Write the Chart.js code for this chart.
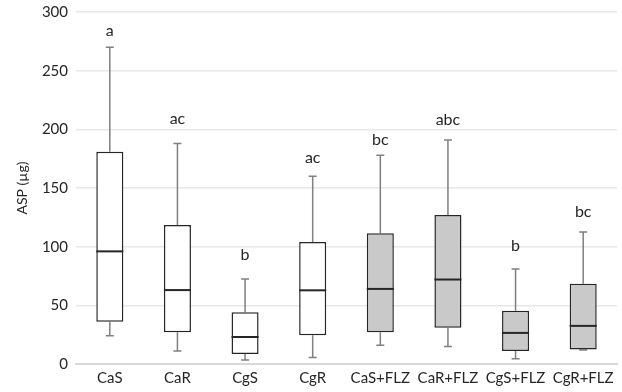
<!DOCTYPE html>
<html>
<head>
<meta charset="utf-8">
<script src="https://cdn.jsdelivr.net/npm/chart.js@4"></script>
<style>
  body { margin: 0; background: #fff; }
  #wrap { width: 622px; height: 392px; }
</style>
</head>
<body>
<div id="wrap"><canvas id="canvasASP"></canvas></div>
<script>
// groups
var grupos = ["CaS", "CaR", "CgS", "CgR", "CaS+FLZ", "CaR+FLZ", "CgS+FLZ", "CgR+FLZ"];
// box plot values (µg)
var minimos = [24, 11, 3.5, 5.5, 16, 15, 4.5, 12];
var q1 = [36, 27, 8.5, 24.5, 27, 31, 11, 12.3];
var medianas = [96, 63, 23, 62.8, 64, 72, 26.5, 32.5];
var q3 = [181, 118.5, 44, 104, 111.5, 127, 45.3, 68.4];
var maximos = [270, 188, 72.5, 160, 178, 191, 81, 112.5];
// significance letters and where they sit
var letras = ["a", "ac", "b", "ac", "bc", "abc", "b", "bc"];
var letrasY = [284, 209, 93, 176, 191, 208, 101, 129.5];

var fuente = "Lato, 'Open Sans', sans-serif";

// whiskers, medians and letters drawn on the chart scales
var boxPlugin = {
  id: "boxExtras",
  beforeDatasetsDraw: function (chart) {
    var c = chart.ctx, x = chart.scales.x, y = chart.scales.y;
    c.save();
    c.strokeStyle = "#808080";
    c.lineWidth = 1.5;
    for (var i = 0; i < grupos.length; i++) {
      var px = x.getPixelForValue(i);
      c.beginPath();
      c.moveTo(px, y.getPixelForValue(maximos[i]));
      c.lineTo(px, y.getPixelForValue(q3[i]));
      c.moveTo(px, y.getPixelForValue(q1[i]));
      c.lineTo(px, y.getPixelForValue(minimos[i]));
      c.moveTo(px - 4, y.getPixelForValue(maximos[i]));
      c.lineTo(px + 4, y.getPixelForValue(maximos[i]));
      c.moveTo(px - 4, y.getPixelForValue(minimos[i]));
      c.lineTo(px + 4, y.getPixelForValue(minimos[i]));
      c.stroke();
    }
    c.restore();
  },
  afterDatasetsDraw: function (chart) {
    var c = chart.ctx, x = chart.scales.x, y = chart.scales.y;
    var meta = chart.getDatasetMeta(0);
    c.save();
    c.strokeStyle = "#262626";
    c.lineWidth = 2;
    for (var i = 0; i < grupos.length; i++) {
      var bar = meta.data[i];
      var half = bar.width / 2;
      var py = y.getPixelForValue(medianas[i]);
      c.beginPath();
      c.moveTo(bar.x - half, py);
      c.lineTo(bar.x + half, py);
      c.stroke();
    }
    c.fillStyle = "#262626";
    c.font = "16px " + fuente;
    c.textAlign = "center";
    c.textBaseline = "middle";
    for (var j = 0; j < letras.length; j++) {
      c.fillText(letras[j], x.getPixelForValue(j), y.getPixelForValue(letrasY[j]));
    }
    c.restore();
  }
};

var cajas = [];
var colores = [];
for (var i = 0; i < grupos.length; i++) {
  cajas.push([q1[i], q3[i]]);
  colores.push(i < 4 ? "#ffffff" : "#c9c9c9");
}

var ctx = document.getElementById("canvasASP").getContext("2d");
window.myChart = new Chart(ctx, {
  type: "bar",
  data: {
    labels: grupos,
    datasets: [
      {
        label: "ASP",
        data: cajas,
        backgroundColor: colores,
        borderColor: "#262626",
        borderWidth: 1.5,
        borderSkipped: false,
        barPercentage: 0.4,
        categoryPercentage: 1
      }
    ]
  },
  options: {
    responsive: true,
    maintainAspectRatio: false,
    animation: false,
    layout: { padding: { top: 0, right: 5, left: 14, bottom: 0 } },
    plugins: {
      legend: { display: false },
      tooltip: { enabled: false }
    },
    scales: {
      x: {
        afterFit: function (s) { s.height = 28; },
        grid: { display: false, drawTicks: false },
        border: { color: "#d9d9d9", width: 2 },
        ticks: { color: "#262626", font: { family: fuente, size: 15 }, padding: 5, maxRotation: 0 }
      },
      y: {
        min: 0,
        max: 300,
        afterFit: function (s) { s.width = 62; s.paddingTop = 12; },
        grid: { color: "#e8e8e8", lineWidth: 1.5, drawTicks: false },
        border: { display: false },
        ticks: { stepSize: 50, color: "#262626", font: { family: fuente, size: 15, lineHeight: 1 }, padding: 8 },
        title: { display: true, text: "ASP (µg)", color: "#262626", font: { family: fuente, size: 14 }, padding: 0 }
      }
    }
  },
  plugins: [boxPlugin]
});
</script>
</body>
</html>
